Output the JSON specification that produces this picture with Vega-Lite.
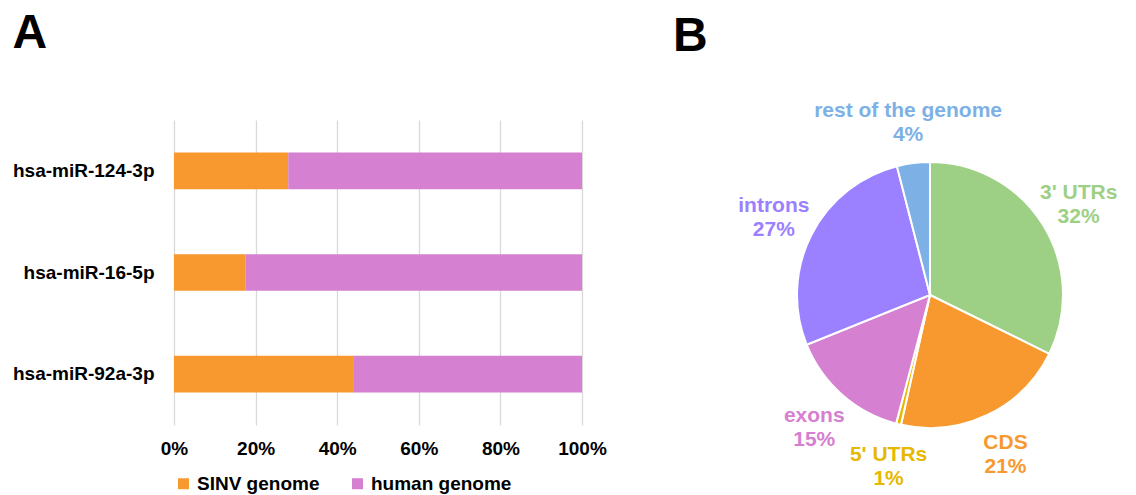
{
  "$schema": "https://vega.github.io/schema/vega-lite/v6.json",
  "padding": {"left": 12, "top": 10, "right": 2, "bottom": 0},
  "config": {
    "font": "Liberation Sans",
    "view": {"stroke": null},
    "title": {"fontSize": 48, "fontWeight": "bold", "anchor": "start", "frame": "bounds", "color": "black"}
  },
  "datasets": {
    "bars": [
      {"miRNA": "hsa-miR-124-3p", "source": "SINV genome", "pct": 28.0, "ord": 1},
      {"miRNA": "hsa-miR-124-3p", "source": "human genome", "pct": 72.0, "ord": 2},
      {"miRNA": "hsa-miR-16-5p", "source": "SINV genome", "pct": 17.6, "ord": 1},
      {"miRNA": "hsa-miR-16-5p", "source": "human genome", "pct": 82.4, "ord": 2},
      {"miRNA": "hsa-miR-92a-3p", "source": "SINV genome", "pct": 44.1, "ord": 1},
      {"miRNA": "hsa-miR-92a-3p", "source": "human genome", "pct": 55.9, "ord": 2}
    ],
    "pie": [
      {"region": "3' UTRs", "share": 32.3, "label": "3' UTRs\n32%", "ord": 1},
      {"region": "CDS", "share": 21.2, "label": "CDS\n21%", "ord": 2},
      {"region": "5' UTRs", "share": 0.6, "label": "5' UTRs\n1%", "ord": 3},
      {"region": "exons", "share": 14.8, "label": "exons\n15%", "ord": 4},
      {"region": "introns", "share": 27.1, "label": "introns\n27%", "ord": 5},
      {"region": "rest of the genome", "share": 4.0, "label": "rest of the genome\n4%", "ord": 6}
    ]
  },
  "hconcat": [
    {
      "data": {"name": "bars"},
      "title": {"text": "A", "offset": 62},
      "width": 408,
      "height": 305,
      "mark": {"type": "bar"},
      "encoding": {
        "y": {
          "field": "miRNA", "type": "nominal",
          "sort": ["hsa-miR-124-3p", "hsa-miR-16-5p", "hsa-miR-92a-3p"],
          "scale": {"paddingInner": 0.64, "paddingOuter": 0.32},
          "axis": {"title": null, "ticks": false, "domain": false, "labelFontSize": 19, "labelFontWeight": "bold", "labelColor": "black", "labelPadding": 20, "labelLimit": 300}
        },
        "x": {
          "field": "pct", "type": "quantitative", "stack": "normalize",
          "scale": {"domain": [0, 1]},
          "axis": {"title": null, "format": ".0%", "values": [0, 0.2, 0.4, 0.6, 0.8, 1], "ticks": false, "domain": false, "grid": true, "gridColor": "#D9D9D9", "gridWidth": 1.3, "labelFlush": false, "labelFontSize": 19, "labelFontWeight": "bold", "labelColor": "black", "labelPadding": 14}
        },
        "color": {
          "field": "source", "type": "nominal",
          "scale": {"domain": ["SINV genome", "human genome"], "range": ["#F7992F", "#D580D0"]},
          "legend": {"orient": "bottom", "direction": "horizontal", "title": null, "symbolType": "square", "symbolSize": 121, "symbolStrokeWidth": 0, "labelFontSize": 19, "labelFontWeight": "bold", "labelColor": "black", "columnPadding": 28, "labelOffset": 4, "offset": 16}
        },
        "order": {"field": "ord", "type": "quantitative"}
      }
    },
    {
      "data": {"name": "pie"},
      "title": {"text": "B", "offset": 39, "dx": -57},
      "width": 400,
      "height": 350,
      "encoding": {
        "theta": {"field": "share", "type": "quantitative", "stack": true},
        "order": {"field": "ord", "type": "quantitative"},
        "color": {
          "field": "region", "type": "nominal",
          "scale": {"domain": ["3' UTRs", "CDS", "5' UTRs", "exons", "introns", "rest of the genome"], "range": ["#9DD084", "#F7992F", "#E6B800", "#D580D0", "#9B80FF", "#7DB1E6"]},
          "legend": null
        }
      },
      "layer": [
        {"mark": {"type": "arc", "outerRadius": 133, "stroke": "white", "strokeWidth": 2}},
        {
          "mark": {"type": "text", "radius": 175, "dy": -10, "fontSize": 21, "fontWeight": "bold", "lineBreak": "\n", "lineHeight": 24, "align": "center", "baseline": "middle"},
          "encoding": {"text": {"field": "label"}}
        }
      ]
    }
  ],
  "spacing": 66,
  "resolve": {"scale": {"color": "independent"}}
}
